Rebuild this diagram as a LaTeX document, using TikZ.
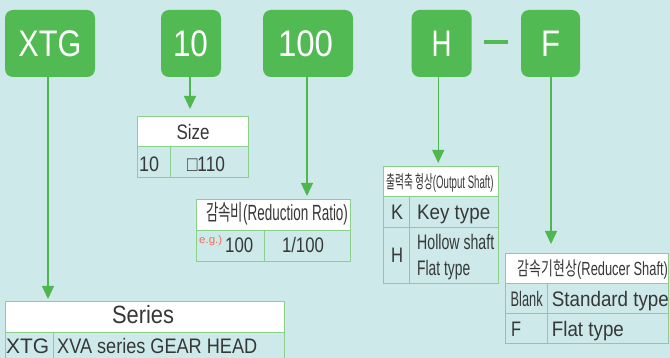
\documentclass[tikz,border=0pt]{standalone}
\usepackage{fontspec}
\usepackage{graphicx}
\setmainfont{Liberation Sans}
\newfontfamily\kr{Noto Sans CJK KR}
\usetikzlibrary{arrows.meta}
\definecolor{bg}{RGB}{205,233,233}
\definecolor{gboxc}{RGB}{82,186,82}
\definecolor{gline}{RGB}{78,184,78}
\definecolor{tline}{RGB}{140,206,140}
\definecolor{txt}{RGB}{55,55,55}
\definecolor{egc}{RGB}{240,110,90}
\newcommand\fs[1]{\fontsize{#1}{#1}\selectfont}
\newcommand\tw[2]{\resizebox{#1pt}{\height}{#2}}
\begin{document}
\begin{tikzpicture}[x=1pt,y=-1pt,
  gbox/.style={fill=gboxc, rounded corners=8pt, text=white, inner sep=0pt, minimum height=67pt, font=\fs{37}},
  arr/.style={draw=gline, line width=1.2pt, -{Triangle[width=12pt,length=13pt]}},
  cellbox/.style={draw=tline, line width=1pt, anchor=north west, inner sep=0pt},
  headcell/.style={cellbox, fill=white},
  lbl/.style={anchor=base west, inner sep=0pt, text=txt, font=\fs{21}},
  clbl/.style={lbl, anchor=base},
]
\fill[bg] (0,0) rectangle (670,358);
\useasboundingbox (0,0) rectangle (670,358);
\clip (0,0) rectangle (670,358);

% code boxes
\node[gbox, minimum width=90pt] (xtg) at (50,43.5) {};
\node[text=white, inner sep=0pt, anchor=base, font=\fs{37}] (xtgt) at (50,57) {\tw{63}{XTG}};
\node[gbox, minimum width=60pt] (b10) at (191,43.5) {};
\node[text=white, inner sep=0pt, anchor=base, font=\fs{37}] (b10t) at (190.5,57) {\tw{35}{10}};
\node[gbox, minimum width=90pt] (b100) at (308,43.5) {};
\node[text=white, inner sep=0pt, anchor=base, font=\fs{37}] (b100t) at (305.5,57) {\tw{55}{100}};
\node[gbox, minimum width=60pt] (bh) at (441.7,43.5) {};
\node[text=white, inner sep=0pt, anchor=base, font=\fs{37}] (bht) at (441.7,57) {\tw{20}{H}};
\node[fill=gboxc, minimum width=24pt, minimum height=4pt, inner sep=0pt] (dash) at (496,42) {};
\node[gbox, minimum width=59pt] (bf) at (550.5,43.5) {};
\node[text=white, inner sep=0pt, anchor=base, font=\fs{37}] (bft) at (550.5,57) {\tw{19}{F}};

% Size table
\node[headcell, minimum width=111pt, minimum height=30pt] (szh) at (137,116) {};
\node[cellbox, minimum width=33pt, minimum height=31pt] (sz1) at (137,146) {};
\node[cellbox, minimum width=78pt, minimum height=31pt] (sz2) at (170,146) {};
\node[clbl] (szht) at (193,140) {\tw{33}{Size}};
\node[lbl] (sz1t) at (139,172) {\tw{20}{10}};
\node[clbl] (sz2t) at (206,172) {\tw{38}{□110}};

% Reduction ratio table
\node[headcell, minimum width=154pt, minimum height=31pt] (rrh) at (196,199) {};
\node[cellbox, minimum width=68pt, minimum height=31pt] (rr1) at (196,230) {};
\node[cellbox, minimum width=86pt, minimum height=31pt] (rr2) at (264,230) {};
\node[clbl, font=\fs{22}] (rrht) at (277,221) {\tw{142}{{\kr 감속비}(Reduction Ratio)}};
\node[lbl, font=\fs{11}, text=egc] (egt) at (199,244) {\tw{23}{e.g.)}};
\node[lbl] (rr1t) at (225,253) {\tw{28}{100}};
\node[clbl] (rr2t) at (303,253) {\tw{42}{1/100}};

% Output shaft table
\node[headcell, minimum width=115pt, minimum height=30pt] (osh) at (383,166) {};
\node[cellbox, minimum width=26pt, minimum height=31pt] (osk) at (383,196) {};
\node[cellbox, minimum width=89pt, minimum height=31pt] (oskd) at (409,196) {};
\node[cellbox, minimum width=26pt, minimum height=56pt] (osh2) at (383,227) {};
\node[cellbox, minimum width=89pt, minimum height=56pt] (oshd) at (409,227) {};
\node[clbl, font=\fs{18}] (osht) at (440,189) {\tw{107}{{\kr 출력축 형상}(Output Shaft)}};
\node[clbl] (oskt) at (397,220) {\tw{12}{K}};
\node[lbl] (oskdt) at (417,220) {\tw{73}{Key type}};
\node[clbl] (osh2t) at (397,263) {\tw{12}{H}};
\node[lbl] (oshd1) at (417,250) {\tw{77}{Hollow shaft}};
\node[lbl] (oshd2) at (417,276) {\tw{53}{Flat type}};

% Reducer shaft table
\node[headcell, minimum width=163pt, minimum height=30pt] (rsh) at (505,253) {};
\node[cellbox, minimum width=42pt, minimum height=30pt] (rsb) at (505,283) {};
\node[cellbox, minimum width=121pt, minimum height=30pt] (rsbd) at (547,283) {};
\node[cellbox, minimum width=42pt, minimum height=30pt] (rsf) at (505,313) {};
\node[cellbox, minimum width=121pt, minimum height=30pt] (rsfd) at (547,313) {};
\node[clbl, font=\fs{19}] (rsht) at (593,276) {\tw{150}{{\kr 감속기현상}(Reducer Shaft)}};
\node[lbl] (rsbt) at (510.5,307) {\tw{32}{Blank}};
\node[lbl] (rsbdt) at (551.7,307) {\tw{117}{Standard type}};
\node[lbl] (rsft) at (511,337) {\tw{10}{F}};
\node[lbl] (rsfdt) at (551.7,337) {\tw{72}{Flat type}};

% Series table
\node[headcell, minimum width=279pt, minimum height=31pt] (srh) at (5,301) {};
\node[cellbox, minimum width=48pt, minimum height=40pt] (sr1) at (5,332) {};
\node[cellbox, minimum width=231pt, minimum height=40pt] (sr2) at (53,332) {};
\node[clbl, font=\fs{25}] (srht) at (143,324) {\tw{62}{Series}};
\node[lbl] (sr1t) at (6,353) {\tw{43}{XTG}};
\node[lbl] (sr2t) at (57,353) {\tw{200}{XVA series GEAR HEAD}};

% connectors
\draw[arr, shorten >=2pt] ([xshift=-2pt]xtg.south) -- ([xshift=-2pt]xtg.south |- srh.north);
\draw[arr, shorten >=7pt] ([xshift=-1pt]b10.south) -- ([xshift=-1pt]b10.south |- szh.north);
\draw[arr, shorten >=3pt] ([xshift=-1pt]b100.south) -- ([xshift=-1pt]b100.south |- rrh.north);
\draw[arr, shorten >=3pt] ([xshift=-3.5pt]bh.south) -- ([xshift=-3.5pt]bh.south |- osh.north);
\draw[arr, shorten >=9pt] ([xshift=0.5pt]bf.south) -- ([xshift=0.5pt]bf.south |- rsh.north);
\end{tikzpicture}
\end{document}
